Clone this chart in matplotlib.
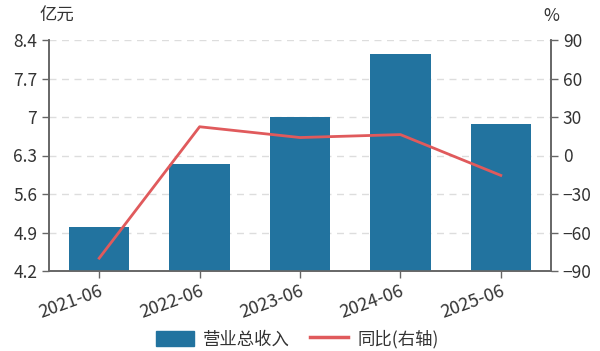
import matplotlib.pyplot as plt
import matplotlib.patches as mpatches
import matplotlib.lines as mlines

plt.rcParams['font.family'] = ['Noto Sans CJK SC', 'DejaVu Sans']

# data
periods = ['2021-06', '2022-06', '2023-06', '2024-06', '2025-06']
revenue = [5.00, 6.15, 7.00, 8.15, 6.87]      # 亿元
yoy = [-80.0, 22.4, 14.0, 16.3, -15.5]        # %

left_ticks = [4.2, 4.9, 5.6, 6.3, 7, 7.7, 8.4]
right_ticks = [-90, -60, -30, 0, 30, 60, 90]

bar_color = '#22739f'
line_color = '#e05a5c'
axis_color = '#666666'
text_color = '#333333'

fig = plt.figure(figsize=(6, 3.51), dpi=100)
ax = fig.add_axes([49/600, 1-271/351, 502/600, 231/351])
ax2 = ax.twinx()

x = list(range(len(periods)))
ax.bar(x, revenue, width=0.6, color=bar_color, zorder=3)
ax2.plot(x, yoy, color=line_color, linewidth=2, zorder=4)

ax.set_xlim(-0.5, len(periods) - 0.5)
ax.set_ylim(left_ticks[0], left_ticks[-1])
ax.set_yticks(left_ticks)
ax.set_yticklabels([f'{v:g}' for v in left_ticks])
ax2.set_ylim(right_ticks[0], right_ticks[-1])
ax2.set_yticks(right_ticks)

ax.set_xticks(x)
ax.set_xticklabels(periods, rotation=20, ha='right', rotation_mode='anchor')

ax.grid(axis='y', color='#dddddd', linestyle=(0, (5, 4)), linewidth=1, zorder=0)
ax.set_axisbelow(True)

for a in (ax, ax2):
    a.spines['top'].set_visible(False)
    for s in ('left', 'right', 'bottom'):
        a.spines[s].set_color(axis_color)
        a.spines[s].set_linewidth(1.2)
    a.tick_params(colors=axis_color, labelcolor=text_color, labelsize=12.5, length=5, width=1)
ax.tick_params(axis='x', pad=3, labelsize=13)

fig.text(40/600, 1-16/351, '亿元', fontsize=12.5, color=text_color, ha='left', va='center')
fig.text(551/600, 1-16/351, '%', fontsize=12.5, color=text_color, ha='center', va='center')

handles = [mpatches.FancyBboxPatch((0, 0), 1, 1, boxstyle='round,pad=0.1', color=bar_color),
           mlines.Line2D([], [], color=line_color, linewidth=2.5)]
fig.legend(handles, ['营业总收入', '同比(右轴)'], loc='center', bbox_to_anchor=(0.495, 1-339/351),
           ncol=2, frameon=False, fontsize=12.5, handlelength=2.2, handleheight=1.0,
           columnspacing=1.2, handletextpad=0.5, labelcolor=text_color)

fig.savefig('out.png', dpi=100)
